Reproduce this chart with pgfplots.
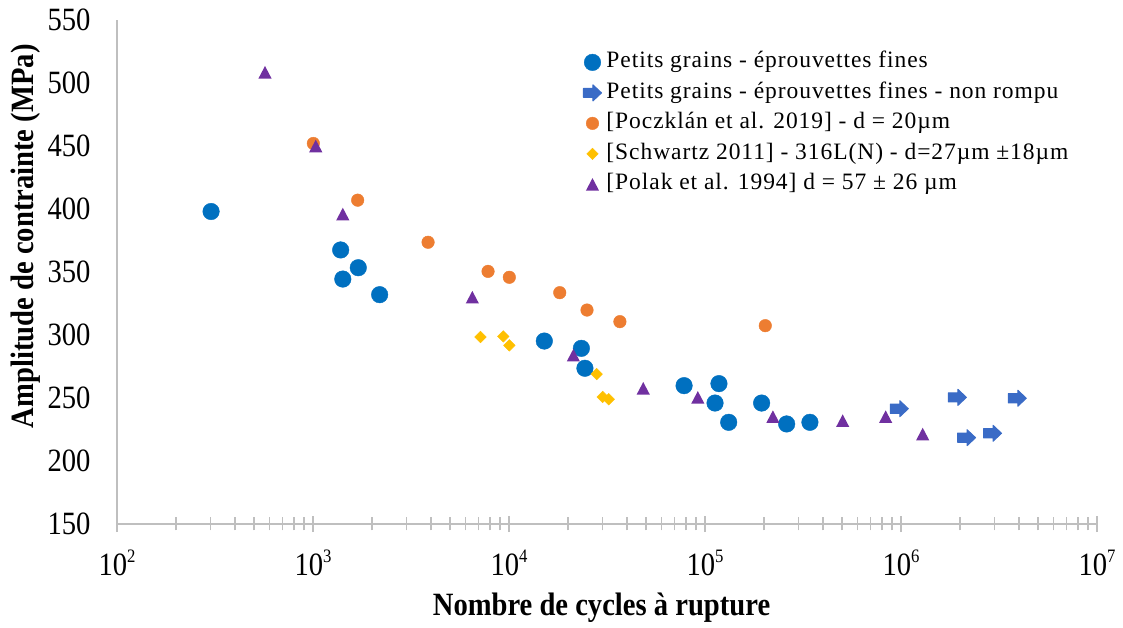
\documentclass[border=0pt]{standalone}
\usepackage{fontspec}
\setmainfont{Liberation Serif}
\newfontfamily\narrowfont{Liberation Serif}[FakeStretch=0.88]
\newfontfamily\legfont{Liberation Serif}[LetterSpace=4]
\usepackage{pgfplots}
\pgfplotsset{compat=1.18}

\definecolor{cBlue}{HTML}{0070C0}
\definecolor{cArrow}{HTML}{3A6BC6}
\definecolor{cOrange}{HTML}{ED7D31}
\definecolor{cYellow}{HTML}{FFC000}
\definecolor{cPurple}{HTML}{7030A0}
\definecolor{cAxis}{HTML}{BFBFBF}

% block arrow pointing right (run-out specimens)
\pgfdeclareplotmark{blockarrow}{%
  \pgfpathmoveto{\pgfqpoint{-9pt}{4.6pt}}%
  \pgfpathlineto{\pgfqpoint{0.5pt}{4.6pt}}%
  \pgfpathlineto{\pgfqpoint{0.5pt}{8pt}}%
  \pgfpathlineto{\pgfqpoint{9pt}{0pt}}%
  \pgfpathlineto{\pgfqpoint{0.5pt}{-8pt}}%
  \pgfpathlineto{\pgfqpoint{0.5pt}{-4.6pt}}%
  \pgfpathlineto{\pgfqpoint{-9pt}{-4.6pt}}%
  \pgfpathclose
  \pgfusepathqfillstroke
}
% triangle centred on its bounding box
\pgfdeclareplotmark{tri}{%
  \pgfpathmoveto{\pgfqpoint{0pt}{6.3pt}}%
  \pgfpathlineto{\pgfqpoint{6.6pt}{-6.3pt}}%
  \pgfpathlineto{\pgfqpoint{-6.6pt}{-6.3pt}}%
  \pgfpathclose
  \pgfusepathqfill
}

\newcommand{\dec}[1]{10\raisebox{13pt}{\fontsize{19}{19}\selectfont #1}}

\begin{document}
\begin{tikzpicture}
\begin{axis}[
  name=ax,
  scale only axis, width=980pt, height=504pt,
  xmode=log, xmin=100, xmax=1e7, ymin=150, ymax=550,
  axis x line=bottom, axis y line=left,
  axis line style={draw=cAxis, line width=1.3pt, -},
  tick align=center,
  major tick length=16pt, minor tick length=13pt,
  xtick={1e2,1e3,1e4,1e5,1e6,1e7},
  xticklabels={\dec{2},\dec{3},\dec{4},\dec{5},\dec{6},\dec{7}},
  minor xtick={200,300,400,500,600,700,800,900,
    2000,3000,4000,5000,6000,7000,8000,9000,
    20000,30000,40000,50000,60000,70000,80000,90000,
    200000,300000,400000,500000,600000,700000,800000,900000,
    2000000,3000000,4000000,5000000,6000000,7000000,8000000,9000000},
  x tick style={draw=cAxis, line width=1.3pt},
  ytick={150,200,...,550},
  y tick style={draw=none},
  /pgf/number format/assume math mode=true,
  tick label style={font=\narrowfont\fontsize{32.5}{36}\selectfont, text=black},
  xticklabel style={anchor=base, yshift=-43pt},
  yticklabel style={anchor=east, xshift=-15pt},
  xlabel={Nombre de cycles à rupture},
  ylabel={Amplitude de contrainte (MPa)},
  label style={font=\narrowfont\bfseries\fontsize{32.5}{36}\selectfont},
  xlabel style={at={(axis description cs:0.4944,-0.1825)}, anchor=base},
  ylabel style={at={(axis description cs:-0.0929,0.571)}, anchor=center},
  legend style={at={(axis description cs:0.476,0.9387)}, anchor=north west,
    draw=none, fill=none, inner sep=0pt, outer sep=0pt,
    font=\legfont\fontsize{23.5}{27}\selectfont, row sep=7.5pt,
    nodes={inner sep=0pt, text height=17pt, text depth=6pt},
    /tikz/every odd column/.append style={column sep=5pt}},
  legend cell align=left,
  legend image code/.code={\draw[#1] plot coordinates {(0pt,0pt)};},
]

% Petits grains - eprouvettes fines
\addplot[only marks, color=cBlue, mark=*, mark size=8.3pt, mark options={fill=cBlue}]
coordinates {
(302,398) (1384,367.5) (1702,353.4) (1419,344.4) (2188,332)
(15140,295.2) (23400,289.4) (24400,273.6) (78200,259.8) (117800,261.4)
(112500,246) (194500,246) (132100,230.7) (261000,229.4) (343000,230.7)
};
\addlegendentry{Petits grains - éprouvettes fines}

% non rompu
\addplot[only marks, color=cArrow, mark=blockarrow, mark options={fill=cArrow, line width=1pt, line join=round}]
coordinates {
(980000,241.5) (1940000,250.5) (3920000,249.8) (2160000,218.5) (2930000,222)
};
\addlegendentry{Petits grains - éprouvettes fines - non rompu}

% Poczklan et al. 2019
\addplot[only marks, color=cOrange, mark=*, mark size=6.3pt, mark options={fill=cOrange}]
coordinates {
(1004,452) (1690,407) (3864,373.6) (7816,350.5) (10037,345.8)
(18150,333.6) (25000,319.8) (36800,310.6) (203000,307.4)
};
\addlegendentry{[Poczklán et al. 2019] - d = 20µm}

% Schwartz 2011
\addplot[only marks, color=cYellow, mark=square*, mark size=4.1pt, mark options={fill=cYellow, rotate=45}]
coordinates {
(7150,298.4) (9350,298.9) (10040,291.8) (28000,269) (30050,250.8) (32250,249)
};
\addlegendentry{[Schwartz 2011] - 316L(N) - d=27µm ±18µm}

% Polak et al. 1994
\addplot[only marks, color=cPurple, mark=tri, mark options={fill=cPurple}]
coordinates {
(569,508.5) (1033,450) (1419,396) (6500,330) (21300,284) (48400,257.7)
(91900,250.5) (222000,235.2) (504000,232) (835000,235.2) (1290000,221.4)
};
\addlegendentry{[Polak et al. 1994] d = 57 ± 26 µm}

% y ticks drawn outside only
\pgfplotsinvokeforeach{150,200,250,300,350,400,450,500,550}{
  \draw[cAxis, line width=1.3pt] (axis cs:100,#1) -- ++(-7pt,0pt);
}
\end{axis}
\pgfresetboundingbox
\path[use as bounding box] ([shift={(-117pt,-104pt)}]ax.south west) rectangle ([shift={(1006pt,524pt)}]ax.south west);
\end{tikzpicture}
\end{document}
